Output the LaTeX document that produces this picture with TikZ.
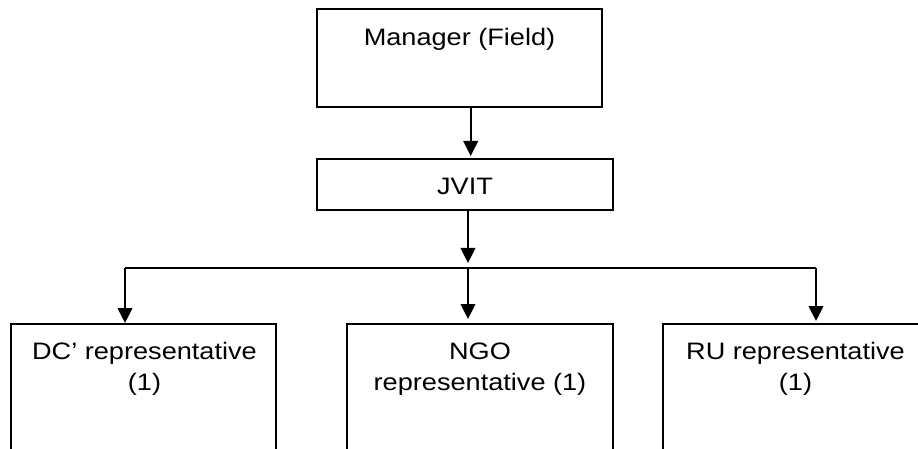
\documentclass[tikz,border=0pt]{standalone}
\usepackage{fontspec}
\setmainfont[FakeStretch=1.14]{Liberation Sans}
\usetikzlibrary{arrows.meta}
\begin{document}
\begin{tikzpicture}[x=0.75pt,y=-0.75pt,
  box/.style={draw,line width=1.5pt,inner sep=0pt},
  lbl/.style={anchor=base,inner sep=0pt,font=\fontsize{17.85pt}{23pt}\selectfont},
  conn/.style={line width=1.4pt},
  arr/.style={conn,-{Triangle[length=11.25pt,width=11pt]}}]
\useasboundingbox (0,0) rectangle (918,449);
\clip (0,0) rectangle (918,449);
% boxes
\node[box,minimum width=213.75pt,minimum height=73.5pt] (mgr) at (459.5,58) {};
\node[lbl] (mgrt) at (459.5,45.7) {Manager (Field)};
\node[box,minimum width=222pt,minimum height=38.25pt] (jvit) at (465,184.5) {};
\node[lbl] (jvitt) at (465,194.3) {JVIT};
\node[box,minimum width=198.75pt,minimum height=117pt] (dc) at (143.5,402) {};
\node[lbl] (dct1) at (144.5,359.3) {DC’ representative};
\node[lbl] (dct2) at (144.5,390) {(1)};
\node[box,minimum width=199.5pt,minimum height=117pt] (ngo) at (480,402) {};
\node[lbl] (ngot1) at (480,359.3) {NGO};
\node[lbl] (ngot2) at (480,390) {representative (1)};
\node[box,minimum width=198.75pt,minimum height=117pt] (ru) at (795.5,402) {};
\node[lbl] (rut1) at (795.5,359.3) {RU representative};
\node[lbl] (rut2) at (795.5,390) {(1)};
% connector points
\coordinate (a0) at (470.7,0);
\coordinate (bl) at (125,268);
\coordinate (bm) at (468,268);
\coordinate (br) at (816,268);
% connectors
\draw[arr,shorten >=1.5pt] (mgr.south -| a0) -- (jvit.north -| a0);
\draw[arr,shorten >=3.75pt] (jvit.south -| bm) -- (bm);
\draw[conn] (bl) -- (br);
\draw[arr] (bl) -- (dc.north -| bl);
\draw[arr,shorten >=3pt] (bm) -- (ngo.north -| bm);
\draw[arr,shorten >=1.5pt] (br) -- (ru.north -| br);
\end{tikzpicture}
\end{document}
